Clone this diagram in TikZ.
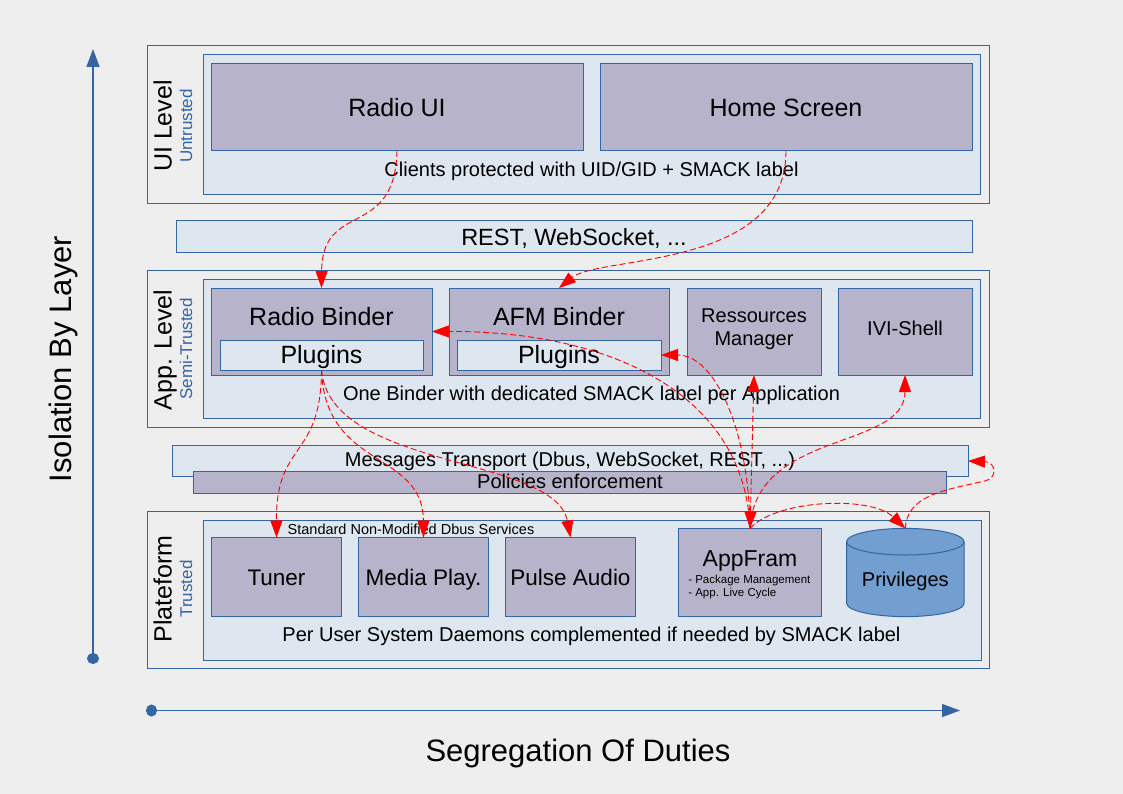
\documentclass[tikz,border=0pt]{standalone}
\usepackage{fontspec}
\setmainfont{Liberation Sans}
\usetikzlibrary{arrows.meta}
\definecolor{bgc}{HTML}{EEEEEE}
\definecolor{bdc}{HTML}{3465A4}
\definecolor{inc}{HTML}{DEE6EF}
\definecolor{cpc}{HTML}{B7B3CA}
\definecolor{prc}{HTML}{729FCF}
\definecolor{arc}{HTML}{FF0000}
\newcommand{\fsz}[1]{\fontsize{#1}{#1}\selectfont}
\begin{document}
\begin{tikzpicture}[x=1pt,y=-1pt,
  every node/.style={inner sep=0pt, outer sep=0pt},
  lvlbox/.style={draw=bdc, fill=bgc, line width=1pt, anchor=north west},
  inrbox/.style={draw=bdc, fill=inc, line width=1pt, anchor=north west},
  cmpbox/.style={draw=bdc, fill=cpc, line width=1pt, anchor=north west},
  txt/.style={anchor=base, text=black},
  rtxt/.style={anchor=base, rotate=90, text=black},
  stxt/.style={anchor=base, rotate=90, text=bdc, font=\fsz{17}},
  flow/.style={draw=arc, line width=0.9pt, dash pattern=on 6pt off 3pt, -{Triangle[length=17pt,width=12pt]}},
  flowboth/.style={draw=arc, line width=0.9pt, dash pattern=on 6pt off 3pt, {Triangle[length=17pt,width=12pt]}-{Triangle[length=17pt,width=12pt]}},
  axisline/.style={draw=bdc, line width=1.5pt, {Circle[length=11pt,width=12pt]}-{Triangle[length=18pt,width=13pt]}}
]
\useasboundingbox (0,0) rectangle (1123,794);
\fill[bgc] (0,0) rectangle (1123,794);

% axes
\coordinate (vax0) at (93,664);
\coordinate (vax1) at (93,49);
\draw[axisline] (vax0) -- (vax1);
\node[rtxt, font=\fsz{31}] (isol) at (71.7,359) {Isolation By Layer};
\coordinate (hax0) at (146,710.5);
\coordinate (hax1) at (960,710.5);
\draw[axisline] (hax0) -- (hax1);
\node[txt, font=\fsz{31}] (segr) at (578,761.7) {Segregation Of Duties};

% UI level
\node[lvlbox, minimum width=842, minimum height=158] (uiouter) at (147,46) {};
\node[inrbox, minimum width=777, minimum height=140] (uiinner) at (203,55) {};
\node[cmpbox, minimum width=372, minimum height=87] (radioui) at (211,64) {};
\node[cmpbox, minimum width=372, minimum height=87] (home) at (600,64) {};
\node[txt, font=\fsz{25}] (radiouit) at (397,116.7) {Radio UI};
\node[txt, font=\fsz{25}] (homet) at (786,116.7) {Home Screen};
\node[txt, font=\fsz{20}] (clients) at (591.5,176.7) {Clients protected with UID/GID + SMACK label};
\node[rtxt, font=\fsz{25}] (uilvl) at (171.7,126) {UI Level};
\node[stxt] (untr) at (192,126) {Untrusted};

% REST bar
\node[inrbox, minimum width=796, minimum height=31] (rest) at (176,221) {};
\node[txt, font=\fsz{23.5}] (restt) at (574,245.3) {REST, WebSocket, ...};

% App level
\node[lvlbox, minimum width=842, minimum height=157] (appouter) at (147,270) {};
\node[inrbox, minimum width=777, minimum height=139] (appinner) at (203,279) {};
\node[cmpbox, minimum width=221, minimum height=87] (rbinder) at (211,288) {};
\node[inrbox, minimum width=203, minimum height=30] (rplug) at (220,340) {};
\node[cmpbox, minimum width=220, minimum height=87] (afm) at (449,288) {};
\node[inrbox, minimum width=204, minimum height=30] (aplug) at (457,340) {};
\node[cmpbox, minimum width=134, minimum height=87] (resman) at (687,288) {};
\node[cmpbox, minimum width=134, minimum height=87] (ivi) at (838,288) {};
\node[txt, font=\fsz{25}] (rbindert) at (321.5,325) {Radio Binder};
\node[txt, font=\fsz{25}] (rplugt) at (321.5,363.3) {Plugins};
\node[txt, font=\fsz{25}] (afmt) at (559,325) {AFM Binder};
\node[txt, font=\fsz{25}] (aplugt) at (559,363.3) {Plugins};
\node[txt, font=\fsz{20}] (resmant1) at (754,322.7) {Ressources};
\node[txt, font=\fsz{20}] (resmant2) at (754,345) {Manager};
\node[txt, font=\fsz{20}] (ivit) at (905,335) {IVI-Shell};
\node[txt, font=\fsz{20}] (onebinder) at (591.5,400) {One Binder with dedicated SMACK label per Application};
\node[rtxt, font=\fsz{25}] (applvl) at (171.7,350) {App. Level};
\node[stxt] (semitr) at (192,349) {Semi-Trusted};

% Transport
\node[inrbox, minimum width=796, minimum height=31] (msg) at (172,445.5) {};
\node[cmpbox, minimum width=753, minimum height=22] (pol) at (193.5,471.5) {};
\node[txt, font=\fsz{20}] (msgt) at (570,466.7) {Messages Transport (Dbus, WebSocket, REST, ...)};
\node[txt, font=\fsz{20}] (polt) at (570,488.3) {Policies enforcement};

% Platform
\node[lvlbox, minimum width=842, minimum height=157] (platouter) at (147,511.5) {};
\node[inrbox, minimum width=778, minimum height=140] (platinner) at (203,520) {};
\node[cmpbox, minimum width=130, minimum height=79] (tuner) at (211.5,537.5) {};
\node[cmpbox, minimum width=130, minimum height=79] (media) at (358.5,537.5) {};
\node[cmpbox, minimum width=130, minimum height=79] (pulse) at (505.5,537.5) {};
\node[cmpbox, minimum width=143, minimum height=88] (appfram) at (678.5,528.5) {};
\node[txt, font=\fsz{14.5}] (stdt) at (411,534.3) {Standard Non-Modified Dbus Services};
\node[txt, font=\fsz{22.5}] (tunert) at (276.5,585) {Tuner};
\node[txt, font=\fsz{22.5}] (mediat) at (423.5,585) {Media Play.};
\node[txt, font=\fsz{22.5}] (pulset) at (570.5,585) {Pulse Audio};
\node[txt, font=\fsz{23}] (appframt) at (750,566.7) {AppFram};
\node[anchor=base west, font=\fsz{11.5}] (pkg) at (688.3,583) {- Package Management};
\node[anchor=base west, font=\fsz{11.5}] (alc) at (688.3,596) {- App. Live Cycle};
% Privileges cylinder
\path[draw=bdc, fill=prc, line width=1pt]
  (846.6,541.7) -- (846.6,603.3)
  .. controls (846.6,610.65) and (872.9,616.6) .. (905.3,616.6)
  .. controls (937.7,616.6) and (964,610.65) .. (964,603.3)
  -- (964,541.7)
  .. controls (964,534.35) and (937.7,528.4) .. (905.3,528.4)
  .. controls (872.9,528.4) and (846.6,534.35) .. (846.6,541.7) -- cycle;
\draw[bdc, line width=1pt] (846.6,541.7)
  .. controls (846.6,549.05) and (872.9,555) .. (905.3,555)
  .. controls (937.7,555) and (964,549.05) .. (964,541.7);
\coordinate (privtop) at (905.3,528.4);
\node[txt, font=\fsz{20}] (priv) at (905.3,586) {Privileges};
\node[txt, font=\fsz{20}] (peruser) at (591.5,641) {Per User System Daemons complemented if needed by SMACK label};
\node[rtxt, font=\fsz{25}] (platlvl) at (171.7,589) {Plateform};
\node[stxt] (trusted) at (192,589) {Trusted};

% connectors
\coordinate (bend) at (985,481);
\draw[flow] (radioui.south) .. controls (395,240) and (322,200) .. (rbinder.north);
\draw[flow] (home.south) .. controls (786,270) and (600,255) .. (afm.north);
\draw[flow] (appfram.north) .. controls (745,400) and (620,331) .. (rbinder.east);
\draw[flow] (appfram.north) .. controls (749,430) and (715,355) .. (aplug.east);
\draw[flowboth] (appfram.north) -- (resman.south);
\draw[flow] (appfram.north) .. controls (755,430) and (905,450) .. (ivi.south);
\draw[flow] (appfram.north) .. controls (775,500) and (870,495) .. (privtop);
\draw[flow] (privtop) .. controls (907,495) and (945,490) .. (bend)
  .. controls (998,478) and (996,462) .. (msg.east);
\draw[flow] (rplug.south) .. controls (321,460) and (276,440) .. (tuner.north);
\draw[flow] (rplug.south) .. controls (325,470) and (423,450) .. (media.north);
\draw[flow] (rplug.south) .. controls (330,470) and (555,455) .. (pulse.north);
\end{tikzpicture}
\end{document}
